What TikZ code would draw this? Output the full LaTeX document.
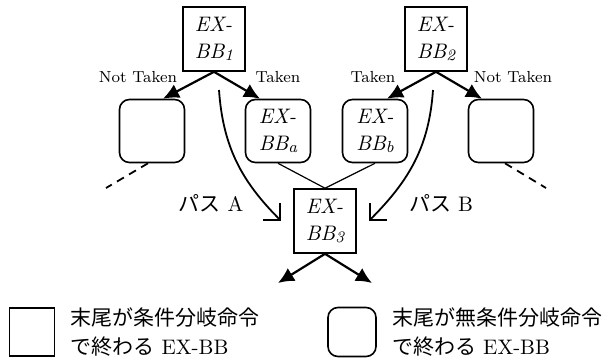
\documentclass[tikz,border=0pt]{standalone}
\usepackage{fontspec}
\newfontfamily\jpfont{Noto Sans CJK JP}
\usetikzlibrary{arrows.meta,positioning}

% block name with its index
\newcommand{\exbb}[1]{EX-\\BB\raisebox{-1.2pt}{\fontsize{8}{8}\selectfont #1}}

\begin{document}
\begin{tikzpicture}[x=0.5pt,y=-0.5pt,>={Latex[length=8pt,width=7.5pt]},
  every node/.append style={align=left},
  cbb/.style={draw,line width=0.8pt,minimum width=31pt,minimum height=32pt,inner sep=0pt,
    font=\fontsize{10.5}{13.5}\selectfont\itshape},
  ubb/.style={cbb,rounded corners=5pt,minimum width=32.5pt,minimum height=31.5pt},
  br/.style={->,line width=1.1pt},
  merge/.style={line width=0.6pt},
  cont/.style={line width=0.9pt,dash pattern=on 4pt off 3pt},
  pathline/.style={-{Straight Barb[length=6pt,width=12pt]},line width=0.9pt},
  lbl/.style={font=\footnotesize,inner sep=0pt},
  jp/.style={font=\fontsize{10.5}{14.5}\selectfont,inner sep=0pt}]

  \useasboundingbox (0,0) rectangle (605,360);

  % blocks
  \node [cbb] (bb1) at (214,39)  {\exbb{1}};
  \node [cbb] (bb2) at (436,39)  {\exbb{2}};
  \node [ubb] (nl)  at (152,131) {};
  \node [ubb] (bba) at (278,131) {\exbb{a}};
  \node [ubb] (bbb) at (375,131) {\exbb{b}};
  \node [ubb] (nr)  at (501,131) {};
  \node [cbb] (bb3) at (325,221) {\exbb{3}};

  % branch labels
  \node [lbl] (nt1) at (138,77) {Not Taken};
  \node [lbl] (tk1) at (278,77) {Taken};
  \node [lbl] (tk2) at (373,77) {Taken};
  \node [lbl] (nt2) at (513,77) {Not Taken};

  \draw [br] (bb1.south) -- ([xshift=5.5pt]nl.north);
  \draw [br] (bb1.south) -- ([xshift=-9pt]bba.north);
  \draw [br] (bb2.south) -- ([xshift=6pt]bbb.north);
  \draw [br] (bb2.south) -- ([xshift=-9.5pt]nr.north);

  % continuation
  \coordinate (dl) at (106,188);
  \coordinate (dr) at (546,188);
  \draw [cont] ([xshift=-2pt]nl.south) -- (dl);
  \draw [cont] ([xshift=2pt]nr.south) -- (dr);

  \draw [merge] (bba.south) -- (bb3.north);
  \draw [merge] (bbb.south) -- (bb3.north);

  % paths A and B
  \coordinate (pa) at (219,90);
  \coordinate (pb) at (433,90);
  \draw [pathline] (pa) to[out=-86,in=135] ([xshift=-6pt]bb3.west);
  \draw [pathline] (pb) to[out=-94,in=45] ([xshift=6pt]bb3.east);
  \node [jp] (lpa) at (211,203) {{\jpfont パス} A};
  \node [jp] (lpb) at (441,203) {{\jpfont パス} B};

  \coordinate (ol) at (278,283);
  \coordinate (or) at (372,283);
  \draw [br] (bb3.south) -- (ol);
  \draw [br] (bb3.south) -- (or);

  % legend
  \node [cbb,minimum width=22.5pt,minimum height=24pt] (keyc) at (32,332) {};
  \node [ubb,minimum width=24pt,minimum height=24.5pt] (keyu) at (352,332) {};
  \node [jp,right=7.5pt of keyc] (txtc) {{\jpfont 末尾が条件分岐命令}\\{\jpfont で終わる} EX-BB};
  \node [jp,right=7.5pt of keyu] (txtu) {{\jpfont 末尾が無条件分岐命令}\\{\jpfont で終わる} EX-BB};
\end{tikzpicture}
\end{document}
